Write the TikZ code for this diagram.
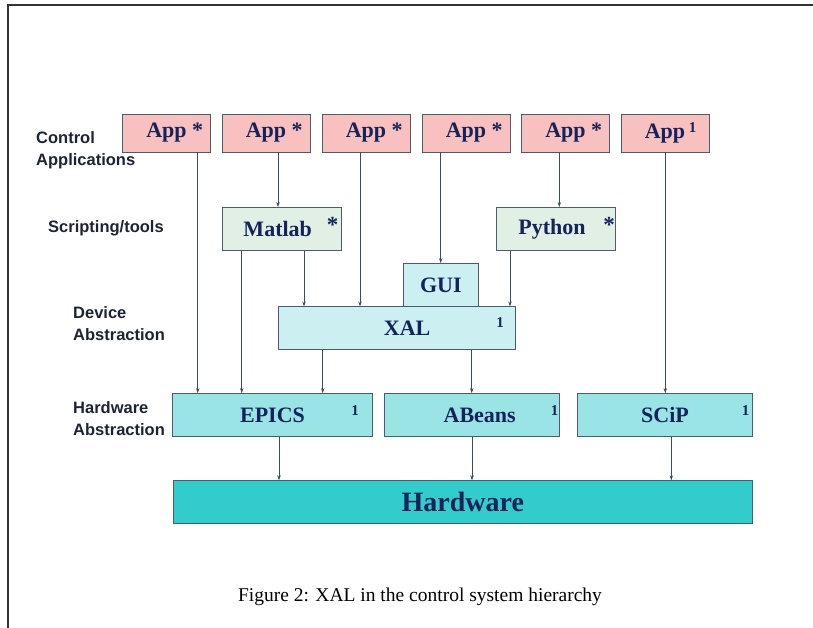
\documentclass[tikz,border=0pt]{standalone}
\usepackage{fontspec}
\setmainfont{Liberation Serif}
\setsansfont{Liberation Sans}
\usetikzlibrary{arrows.meta,positioning}

\definecolor{apppink}{HTML}{F9C0C0}
\definecolor{toolgreen}{HTML}{E2EFE4}
\definecolor{devcyan}{HTML}{CCF0F2}
\definecolor{hwcyan}{HTML}{9AE4E6}
\definecolor{hwteal}{HTML}{33CCCC}
\definecolor{boxline}{HTML}{4A5C72}
\definecolor{arrowline}{HTML}{3C4C62}
\definecolor{navy}{HTML}{14245A}
\definecolor{labelink}{HTML}{1C2433}

\begin{document}
\begin{tikzpicture}[x=1pt,y=-1pt,
box/.style={rectangle, draw=boxline, line width=0.8pt, inner sep=0pt, minimum height=43pt, text=navy, font=\fontsize{22}{24}\selectfont\bfseries},
app/.style={box, fill=apppink, minimum width=88pt, minimum height=38pt},
tool/.style={box, fill=toolgreen, minimum width=119pt},
dev/.style={box, fill=devcyan},
hal/.style={box, fill=hwcyan},
asterisk/.style={draw=none, fill=none, inner sep=0pt, text=navy, font=\fontsize{23}{24}\selectfont\bfseries},
footnum/.style={draw=none, fill=none, inner sep=0pt, text=navy, font=\fontsize{15}{16}\selectfont\bfseries},
layer/.style={draw=none, fill=none, align=left, anchor=west, inner sep=0pt, text=labelink, font=\sffamily\bfseries\fontsize{16.5}{22}\selectfont},
conn/.style={draw=arrowline, line width=0.8pt, -{Stealth[length=5pt,width=3.5pt]}}]

\useasboundingbox (0,0) rectangle (813,628);

%% frame
\draw[line width=2pt, black!80] (813,5) -- (7.5,5) -- (7.5,628);

%% layer names
\node[layer] (lbl-ctrl) at (36,150) {Control\\Applications};
\node[layer] (lbl-script) at (48,228) {Scripting/tools};
\node[layer] (lbl-dev) at (73,324) {Device\\Abstraction};
\node[layer] (lbl-hw) at (73,419) {Hardware\\Abstraction};

%% control applications
\foreach \s/\x in {1/166.5, 2/266, 3/366, 4/466, 5/565.5}
      \node[app] (app-\s) at (\x,133) {App\rlap{ *}};
\node[app] (app-6) at (665,133) {App\rlap{\,\raisebox{6pt}{\fontsize{15}{16}\selectfont 1}}};

%% scripting and tools
\node[tool] (matlab) at (281.7,229) {Matlab\hspace*{8pt}};
\node[tool] (python) at (556,229) {Python\hspace*{8pt}};
\node[asterisk] (matlab-n) at (332.5,225) {*};
\node[asterisk] (python-n) at (609,225) {*};

%% device abstraction
\node[dev, minimum width=237pt] (xal) at (397.2,328.3) {\hspace*{20pt}XAL};
\node[dev, minimum width=75pt] (gui) at (440.8,285) {GUI};
\node[footnum] (xal-n) at (500,323) {1};

%% hardware abstraction
\node[hal, minimum width=199.6pt] (epics) at (272.5,415) {EPICS};
\node[hal, minimum width=175.3pt] (abeans) at (471.7,415) {\hspace*{16pt}ABeans};
\node[hal, minimum width=174.8pt] (scip) at (665,415) {SCiP};
\foreach \x in {355, 554.5, 745.5}
      \node[footnum] at (\x,411) {1};

%% hardware
\node[box, fill=hwteal, minimum width=579.7pt, minimum height=42.6pt, font=\fontsize{28}{30}\selectfont\bfseries] (hardware) at (462.8,502) {Hardware};

%% connectors
\foreach \a/\b/\x in {app-1/epics/197.7, app-2/matlab/278, app-3/xal/360, app-4/gui/440.7, app-5/python/559.3, app-6/scip/665.3, matlab/epics/241.7, matlab/xal/304, python/xal/510, xal/epics/322.7, xal/abeans/471.7, epics/hardware/279, abeans/hardware/472, scip/hardware/671.3}
      \draw[conn] (\x,0 |- \a.south) -- (\x,0 |- \b.north);

%% caption
\node[font=\fontsize{19.5}{22}\selectfont] (caption) at (420,597) {Figure 2: XAL in the control system hierarchy};

\end{tikzpicture}
\end{document}
